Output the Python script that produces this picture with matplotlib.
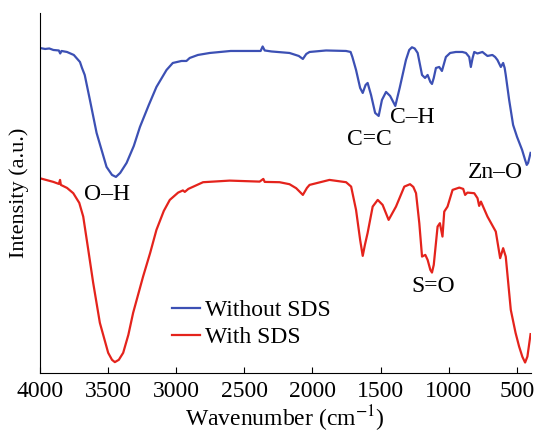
import matplotlib.pyplot as plt

plt.rcParams['font.family'] = ['Liberation Serif', 'DejaVu Serif']
plt.rcParams['mathtext.fontset'] = 'stix'

# FTIR spectra, intensity in arbitrary units
wn_without = [4000, 3960, 3930, 3900, 3860, 3850, 3840, 3800, 3750, 3705, 3690, 3670, 3632, 3583,
              3540, 3510, 3470, 3441, 3410, 3363, 3310, 3265, 3200, 3144, 3070, 3024, 2960, 2924,
              2900, 2840, 2753, 2600, 2485, 2380, 2365, 2350, 2300, 2168, 2100, 2070, 2045, 2021,
              1900, 1753, 1720, 1707, 1680, 1650, 1631, 1610, 1595, 1570, 1540, 1514, 1490, 1460,
              1430, 1392, 1360, 1314, 1290, 1270, 1250, 1228, 1196, 1174, 1155, 1135, 1123,
              1110, 1094, 1070, 1050, 1021, 990, 948, 900, 874, 850, 838, 825, 813, 790, 777,
              753, 735, 716, 680, 660, 643, 618, 601, 590, 582, 557, 528, 499, 462, 440, 428,
              418, 400]
int_without = [325, 324, 324.5, 323, 322.5, 319.5, 322, 321, 318, 311, 305, 298, 273, 240,
               220, 206, 198, 196, 200, 210, 227, 246, 268, 286, 303, 310, 312, 312,
               315, 318, 320, 322, 322, 322, 326.5, 322.5, 321.5, 320, 317, 314, 319, 321,
               322.5, 322, 321, 316, 303, 285, 280, 288, 290, 278, 260, 257, 273, 281,
               277, 267, 285, 313, 323, 325.7, 324.5, 320, 298, 295, 298, 291, 289,
               295, 305, 306, 302, 316, 320, 321, 321, 320, 316, 306, 315, 321, 319.5, 320,
               321, 319, 317, 318, 316, 313, 306, 310, 305, 298, 273, 248, 236, 223, 213, 208,
               210, 220]

wn_with = [4000, 3900, 3860, 3851, 3845, 3800, 3754, 3710, 3681, 3644, 3608, 3559, 3498,
           3470, 3449, 3420, 3388, 3350, 3315, 3242, 3190, 3144, 3090, 3046, 2985, 2950, 2936,
           2910, 2802, 2607, 2387, 2360, 2350, 2241, 2168, 2119, 2070, 2040, 2021, 1875, 1753,
           1716, 1680, 1650, 1631, 1615, 1595, 1558, 1521, 1485, 1441, 1387, 1326, 1284, 1260,
           1240, 1216, 1196, 1172, 1155, 1135, 1123, 1110, 1099, 1082, 1065, 1046, 1033,
           1009, 972, 923, 894, 880, 863, 813, 789, 777, 764, 716, 655, 623, 601, 582, 545,
           510, 484, 460, 440, 423, 400]
int_with = [194.7, 191, 189, 193, 188, 185, 179.7, 170, 156.3, 123, 90, 50, 20,
            13, 10.7, 13, 20, 38, 60, 96.3, 120, 143, 162, 173, 180.3, 182.5, 181,
            184, 190.7, 192.3, 191.3, 194, 191, 190.7, 188.7, 184.7, 178, 185, 188, 193, 190.7,
            186.3, 163, 133, 117, 128, 140, 166.3, 173, 168, 153, 166.3, 186.3, 188.7, 186,
            179.7, 149.7, 116.3, 118, 113, 103, 100.3, 108, 123, 146.3, 149.7, 136.3, 161.3,
            166.3, 183, 185.3, 184, 178, 180.3, 179.7, 174.7, 167, 171.3, 156.3, 141.3, 114.7,
            124.7, 116.3, 63, 40, 26.3, 16, 10.3, 16.3, 38.7]

# band labels: (text, wavenumber, intensity)
bands = [("O\u2013H", 3507, 178), ("C=C", 1582, 233), ("C\u2013H", 1268, 255.5),
         ("Zn\u2013O", 657, 200.5), ("S=O", 1117, 86.5)]

fig = plt.figure(figsize=(5.37, 4.33), dpi=100)
ax = fig.add_axes([0.074, 0.139, 0.914, 0.831])

ax.plot(wn_without, int_without, color='#3c50b4', lw=1.6, label='Without SDS')
ax.plot(wn_with, int_with, color='#e4231c', lw=1.6, label='With SDS')

for txt, x, y in bands:
    ax.text(x, y, txt, fontsize=17, ha='center', va='center')

ax.set_xlim(4000, 400)
ax.set_ylim(0, 360)
ax.set_xticks([4000, 3500, 3000, 2500, 2000, 1500, 1000, 500])
ax.set_yticks([])
ax.tick_params(axis='x', direction='in', length=4, labelsize=17, pad=6)
ax.spines['top'].set_visible(False)
ax.spines['right'].set_visible(False)
ax.set_xlabel('Wavenumber (cm$^{-1}$)', fontsize=17, labelpad=1)
ax.set_ylabel('Intensity (a.u.)', fontsize=16, labelpad=8)

ax.legend(loc='center left', bbox_to_anchor=(0.269, 0.136), frameon=False, fontsize=17,
          borderpad=0, borderaxespad=0, handlelength=1.2, handletextpad=0.2,
          labelspacing=0.25)

fig.savefig('out.png', dpi=100)
